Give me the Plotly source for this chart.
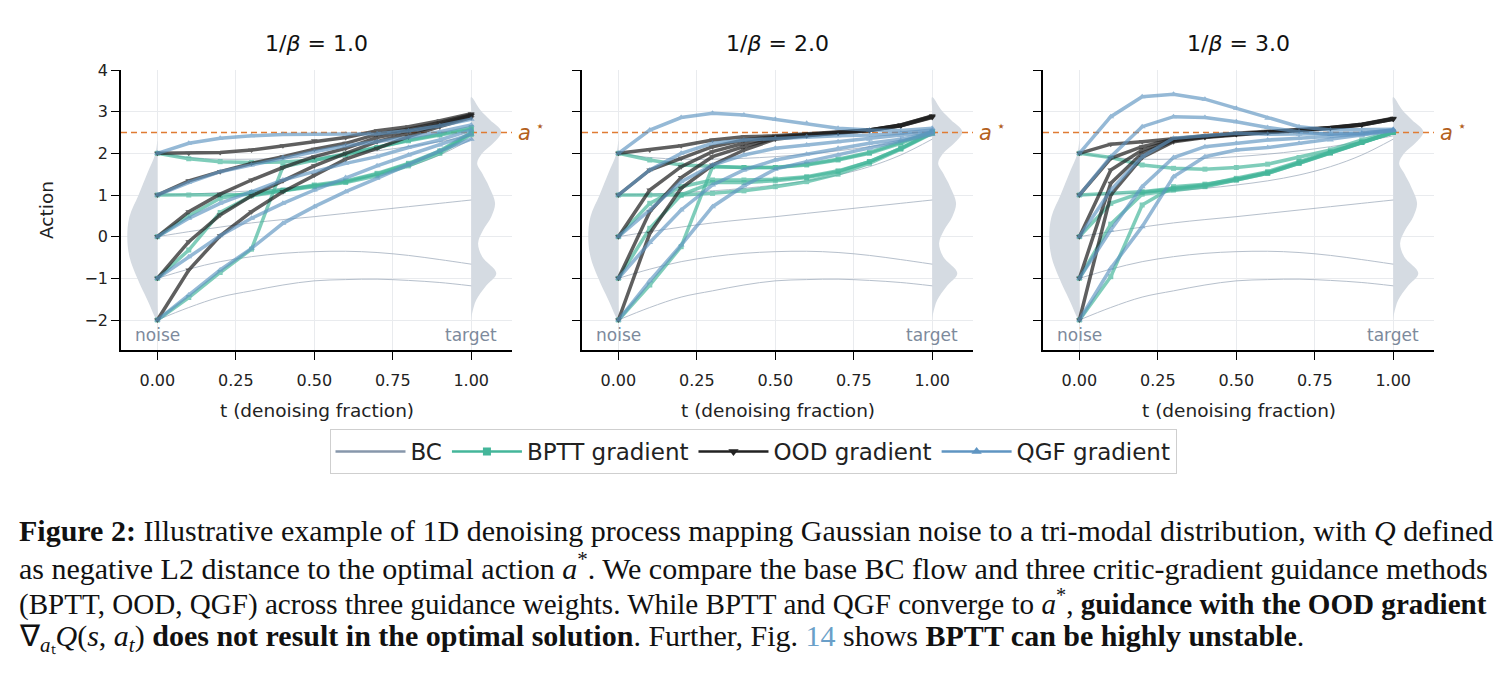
import plotly.graph_objects as go

# ---------------- data ----------------
T = [0.0, 0.1, 0.2, 0.3, 0.4, 0.5, 0.6, 0.7, 0.8, 0.9, 1.0]
TICK_T = [0.0, 0.25, 0.5, 0.75, 1.0]
TICK_T_TEXT = ["0.00", "0.25", "0.50", "0.75", "1.00"]
TICK_A = [-2, -1, 0, 1, 2, 3, 4]
TICK_A_TEXT = ["\u22122", "\u22121", "0", "1", "2", "3", "4"]
PANEL_TITLES = ["1.0", "2.0", "3.0"]
A_STAR = 2.5

# base BC flow (same in every panel), one row per start point 2,1,0,-1,-2
BC = [
    [2, 1.9, 1.86, 1.86, 1.88, 1.92, 1.98, 2.06, 2.16, 2.28, 2.42],
    [1, 1.02, 1.06, 1.1, 1.16, 1.24, 1.34, 1.48, 1.68, 1.96, 2.34],
    [0, 0.12, 0.23, 0.33, 0.41, 0.48, 0.56, 0.64, 0.72, 0.8, 0.88],
    [-1, -0.78, -0.6, -0.48, -0.4, -0.36, -0.35, -0.38, -0.45, -0.55, -0.66],
    [-2, -1.7, -1.45, -1.3, -1.16, -1.06, -1.03, -1.02, -1.05, -1.1, -1.18],
]

# 1/beta = 1.0
BPTT_B1 = [
    [2, 1.87, 1.8, 1.78, 1.79, 1.84, 1.96, 2.14, 2.32, 2.46, 2.62],
    [1, 1.0, 0.99, 1.01, 1.1, 1.2, 1.3, 1.46, 1.7, 2.0, 2.45],
    [0, 0.5, 0.92, 1.06, 1.12, 1.22, 1.32, 1.5, 1.74, 2.04, 2.48],
    [-1, -0.32, 0.58, 0.98, 1.1, 1.24, 1.34, 1.52, 1.76, 2.06, 2.5],
    [-2, -1.46, -0.86, -0.3, 1.68, 1.84, 1.98, 2.14, 2.3, 2.44, 2.58],
]
OOD_B1 = [
    [2, 2.0, 2.02, 2.08, 2.18, 2.30, 2.38, 2.54, 2.64, 2.78, 2.95],
    [1, 1.34, 1.56, 1.76, 1.92, 2.10, 2.24, 2.46, 2.58, 2.74, 2.93],
    [0, 0.6, 1.02, 1.36, 1.66, 1.92, 2.12, 2.38, 2.54, 2.70, 2.91],
    [-1, -0.12, 0.52, 0.98, 1.34, 1.70, 2.0, 2.28, 2.48, 2.67, 2.90],
    [-2, -0.8, 0.02, 0.6, 1.08, 1.48, 1.86, 2.12, 2.40, 2.64, 2.86],
]
QGF_B1 = [
    [2, 2.24, 2.36, 2.42, 2.45, 2.46, 2.46, 2.47, 2.54, 2.66, 2.82],
    [1, 1.3, 1.56, 1.72, 1.9, 2.04, 2.18, 2.28, 2.38, 2.52, 2.68],
    [0, 0.44, 0.8, 1.08, 1.36, 1.56, 1.76, 1.92, 2.14, 2.32, 2.56],
    [-1, -0.48, 0.02, 0.44, 0.8, 1.12, 1.42, 1.7, 1.96, 2.2, 2.46],
    [-2, -1.4, -0.8, -0.28, 0.32, 0.72, 1.08, 1.4, 1.72, 2.06, 2.34],
]

# 1/beta = 2.0
BPTT_B2 = [
    [2, 1.84, 1.72, 1.68, 1.66, 1.66, 1.72, 1.84, 2.0, 2.24, 2.52],
    [1, 1.0, 1.0, 1.04, 1.1, 1.2, 1.32, 1.5, 1.76, 2.1, 2.48],
    [0, 0.8, 1.2, 1.36, 1.36, 1.38, 1.44, 1.58, 1.8, 2.12, 2.5],
    [-1, 0.2, 1.0, 1.3, 1.3, 1.34, 1.42, 1.56, 1.8, 2.12, 2.49],
    [-2, -1.16, -0.24, 1.68, 1.66, 1.66, 1.74, 1.86, 2.02, 2.26, 2.52],
]
OOD_B2 = [
    [2, 2.08, 2.18, 2.32, 2.40, 2.42, 2.46, 2.50, 2.56, 2.68, 2.90],
    [1, 1.6, 1.88, 2.16, 2.32, 2.40, 2.45, 2.50, 2.56, 2.68, 2.89],
    [0, 1.12, 1.68, 2.04, 2.24, 2.38, 2.44, 2.50, 2.56, 2.67, 2.88],
    [-1, 0.6, 1.42, 1.92, 2.16, 2.36, 2.43, 2.49, 2.55, 2.66, 2.87],
    [-2, 0.08, 1.16, 1.72, 2.08, 2.34, 2.42, 2.49, 2.55, 2.66, 2.86],
]
QGF_B2 = [
    [2, 2.56, 2.86, 2.96, 2.92, 2.82, 2.72, 2.6, 2.56, 2.55, 2.6],
    [1, 1.6, 2.0, 2.24, 2.32, 2.36, 2.4, 2.42, 2.44, 2.48, 2.56],
    [0, 0.64, 1.32, 1.72, 1.96, 2.12, 2.2, 2.28, 2.34, 2.42, 2.52],
    [-1, -0.14, 0.64, 1.24, 1.6, 1.84, 1.98, 2.12, 2.24, 2.34, 2.5],
    [-2, -1.06, -0.2, 0.72, 1.22, 1.62, 1.8, 1.96, 2.12, 2.3, 2.46],
]

# 1/beta = 3.0
BPTT_B3 = [
    [2, 1.9, 1.72, 1.64, 1.62, 1.66, 1.74, 1.9, 2.08, 2.32, 2.52],
    [1, 1.04, 1.08, 1.16, 1.24, 1.4, 1.56, 1.8, 2.04, 2.28, 2.5],
    [0, 0.8, 1.06, 1.14, 1.22, 1.36, 1.52, 1.76, 2.02, 2.26, 2.5],
    [-1, 0.3, 1.02, 1.12, 1.2, 1.36, 1.52, 1.76, 2.0, 2.26, 2.5],
    [-2, -0.96, 0.76, 1.2, 1.26, 1.38, 1.54, 1.78, 2.02, 2.26, 2.5],
]
OOD_B3 = [
    [2, 2.22, 2.28, 2.36, 2.42, 2.48, 2.52, 2.56, 2.62, 2.70, 2.84],
    [1, 1.88, 2.16, 2.34, 2.41, 2.47, 2.51, 2.56, 2.61, 2.69, 2.83],
    [0, 1.6, 2.08, 2.32, 2.40, 2.46, 2.51, 2.55, 2.61, 2.69, 2.83],
    [-1, 1.28, 2.0, 2.3, 2.39, 2.46, 2.50, 2.55, 2.60, 2.68, 2.82],
    [-2, 1.0, 1.9, 2.28, 2.38, 2.45, 2.50, 2.55, 2.60, 2.68, 2.82],
]
QGF_B3 = [
    [2, 2.88, 3.36, 3.42, 3.3, 3.08, 2.84, 2.64, 2.56, 2.56, 2.58],
    [1, 1.92, 2.64, 2.88, 2.86, 2.76, 2.62, 2.52, 2.46, 2.48, 2.56],
    [0, 1.12, 1.92, 2.36, 2.42, 2.48, 2.46, 2.46, 2.46, 2.48, 2.56],
    [-1, 0.16, 1.2, 1.9, 2.16, 2.24, 2.32, 2.36, 2.4, 2.46, 2.55],
    [-2, -0.76, 0.24, 1.44, 1.92, 2.08, 2.14, 2.24, 2.32, 2.42, 2.54],
]

# density outlines (half-widths in t units)
NOISE_Y = [2.3, 2.0, 1.52, 1.0, 0.48, 0.0, -0.48, -1.0, -1.52, -2.0]
NOISE_W = [0.0, 0.006, 0.032, 0.060, 0.089, 0.096, 0.089, 0.064, 0.032, 0.002]
TARGET_Y = [3.35, 3.04, 2.80, 2.52, 2.24, 2.0, 1.76, 1.52, 1.2, 0.8, 0.48,
            0.16, -0.16, -0.48, -0.88, -1.2, -1.52, -1.84, -2.0]
TARGET_W = [0.0, 0.029, 0.06, 0.096, 0.07, 0.035, 0.019, 0.035, 0.057, 0.076,
            0.064, 0.038, 0.022, 0.035, 0.08, 0.045, 0.016, 0.003, 0.0]

PANELS = [(BPTT_B1, OOD_B1, QGF_B1), (BPTT_B2, OOD_B2, QGF_B2), (BPTT_B3, OOD_B3, QGF_B3)]

# ---------------- style ----------------
W, H = 1511, 680
FONT = "DejaVu Sans"
C_BC = "#8797ab"
C_BPTT = "#44b69a"
C_OOD = "#222222"
C_QGF = "#5f95c2"
C_DENS = "#d5dbe2"
C_STAR = "#e07b33"
C_STAR_TXT = "#b3601c"
C_NOTE = "#7d8a9c"
X_RANGE = [-0.116, 1.13]
Y_RANGE = [-2.72, 4.0]
PX_L = [121, 582, 1043]
PX_R = [512, 973, 1434]
PX_TOP, PX_BOT = 70, 350


def fx(p):
    return p / W


def fy(p):
    return 1 - p / H


fig = go.Figure()

for k, (bptt, ood, qgf) in enumerate(PANELS):
    xa = "x" if k == 0 else f"x{k+1}"
    ya = "y" if k == 0 else f"y{k+1}"
    common = dict(xaxis=xa, yaxis=ya, showlegend=False, hoverinfo="skip")

    # noise density (left of t=0)
    fig.add_trace(go.Scatter(
        x=[-w for w in NOISE_W] + [0.0] * len(NOISE_W),
        y=NOISE_Y + NOISE_Y[::-1],
        fill="toself", fillcolor=C_DENS, mode="lines",
        line=dict(width=0, color=C_DENS, shape="spline"), **common))
    # target density (right of t=1)
    fig.add_trace(go.Scatter(
        x=[1 + w for w in TARGET_W] + [1.0] * len(TARGET_W),
        y=TARGET_Y + TARGET_Y[::-1],
        fill="toself", fillcolor=C_DENS, mode="lines",
        line=dict(width=0, color=C_DENS, shape="spline"), **common))

    # a* reference line
    fig.add_trace(go.Scatter(
        x=X_RANGE, y=[A_STAR, A_STAR], mode="lines",
        line=dict(color=C_STAR, width=1.5, dash="6px,4px"), **common))

    for row in BC:
        fig.add_trace(go.Scatter(x=T, y=row, mode="lines",
                                 line=dict(color=C_BC, width=1, shape="spline"),
                                 opacity=0.6, **common))
    for row in bptt:
        fig.add_trace(go.Scatter(x=T, y=row, mode="lines+markers",
                                 line=dict(color=C_BPTT, width=3.5),
                                 marker=dict(symbol="square", size=5, color=C_BPTT),
                                 opacity=0.68, **common))
    for row in ood:
        fig.add_trace(go.Scatter(x=T, y=row, mode="lines+markers",
                                 line=dict(color=C_OOD, width=3.5),
                                 marker=dict(symbol="triangle-down", size=6, color=C_OOD),
                                 opacity=0.72, **common))
    for row in qgf:
        fig.add_trace(go.Scatter(x=T, y=row, mode="lines+markers",
                                 line=dict(color=C_QGF, width=3.5),
                                 marker=dict(symbol="triangle-up", size=6, color=C_QGF),
                                 opacity=0.66, **common))

# legend entries
fig.add_trace(go.Scatter(x=[None], y=[None], mode="lines", name="BC",
                         line=dict(color=C_BC, width=2.5)))
fig.add_trace(go.Scatter(x=[None], y=[None], mode="lines+markers", name="BPTT gradient",
                         line=dict(color=C_BPTT, width=2.5),
                         marker=dict(symbol="square", size=8, color=C_BPTT)))
fig.add_trace(go.Scatter(x=[None], y=[None], mode="lines+markers", name="OOD gradient",
                         line=dict(color=C_OOD, width=2.5),
                         marker=dict(symbol="triangle-down", size=9, color=C_OOD)))
fig.add_trace(go.Scatter(x=[None], y=[None], mode="lines+markers", name="QGF gradient",
                         line=dict(color=C_QGF, width=2.5),
                         marker=dict(symbol="triangle-up", size=9, color=C_QGF)))

axis_common = dict(showgrid=True, gridcolor="#e9ebee", gridwidth=1, zeroline=False,
                   showline=True, linecolor="black", linewidth=1.6,
                   ticks="outside", ticklen=8, tickwidth=1.4, tickcolor="black",
                   tickfont=dict(family=FONT, size=16, color="#222222"),
                   automargin=False, fixedrange=True)

layout = dict(
    width=W, height=H, margin=dict(l=0, r=0, t=0, b=0),
    paper_bgcolor="white", plot_bgcolor="white", template="none",
    font=dict(family=FONT, color="#222222"),
    legend=dict(orientation="h", x=fx(753), xanchor="center", y=fy(429), yanchor="top",
                bordercolor="#cfcfcf", borderwidth=1, bgcolor="white",
                font=dict(family=FONT, size=23, color="#222222"),
                itemwidth=70, tracegroupgap=0),
    showlegend=True,
)
for k in range(3):
    xk = "xaxis" if k == 0 else f"xaxis{k+1}"
    yk = "yaxis" if k == 0 else f"yaxis{k+1}"
    layout[xk] = dict(axis_common, domain=[fx(PX_L[k]), fx(PX_R[k])], range=X_RANGE,
                      tickvals=TICK_T, ticktext=TICK_T_TEXT, ticklabelstandoff=7,
                      anchor="y" if k == 0 else f"y{k+1}")
    layout[yk] = dict(axis_common, domain=[fy(PX_BOT), fy(PX_TOP)], range=Y_RANGE,
                      tickvals=TICK_A, ticktext=TICK_A_TEXT if k == 0 else [""] * len(TICK_A),
                      showticklabels=(k == 0),
                      anchor="x" if k == 0 else f"x{k+1}")
fig.update_layout(**layout)

ann = []
for k in range(3):
    xa = "x" if k == 0 else f"x{k+1}"
    ya = "y" if k == 0 else f"y{k+1}"
    cx = (PX_L[k] + PX_R[k]) / 2
    ann.append(dict(text="1/<i>\u03b2</i> = " + PANEL_TITLES[k], x=fx(cx), y=fy(44),
                    xref="paper", yref="paper", xanchor="center", yanchor="middle",
                    showarrow=False, font=dict(family=FONT, size=22, color="#111111")))
    ann.append(dict(text="t (denoising fraction)", x=fx(cx), y=fy(410),
                    xref="paper", yref="paper", xanchor="center", yanchor="middle",
                    showarrow=False, font=dict(family=FONT, size=18.5, color="#222222")))
    ann.append(dict(text="noise", x=0, y=-2.36, xref=xa, yref=ya, showarrow=False,
                    xanchor="center", yanchor="middle",
                    font=dict(family=FONT, size=17, color=C_NOTE)))
    ann.append(dict(text="target", x=1, y=-2.36, xref=xa, yref=ya, showarrow=False,
                    xanchor="center", yanchor="middle",
                    font=dict(family=FONT, size=17, color=C_NOTE)))
    ann.append(dict(text="<i>a</i><sup> \u22c6</sup>", x=fx(PX_R[k] + 4), y=fy(131),
                    xref="paper", yref="paper", xanchor="left", yanchor="middle",
                    showarrow=False, font=dict(family=FONT, size=21, color=C_STAR_TXT)))
ann.append(dict(text="Action", x=fx(46), y=fy(210), xref="paper", yref="paper",
                xanchor="center", yanchor="middle", textangle=-90, showarrow=False,
                font=dict(family=FONT, size=18.5, color="#222222")))

CAPTION = [
    "<b>Figure 2:</b> Illustrative example of 1D denoising process mapping Gaussian noise to a tri-modal distribution, with <i>Q</i> defined",
    "as negative L2 distance to the optimal action <i>a</i><sup>*</sup>. We compare the base BC flow and three critic-gradient guidance methods",
    "(BPTT, OOD, QGF) across three guidance weights. While BPTT and QGF converge to <i>a</i><sup>*</sup>, <b>guidance with the OOD gradient</b>",
    "\u2207<sub><i>a</i>\u209c</sub><i>Q</i>(<i>s</i>, <i>a</i><sub><i>t</i></sub>) <b>does not result in the optimal solution</b>. Further, Fig. "
    "<span style='color:#6a9fc8'>14</span> shows <b>BPTT can be highly unstable</b>.",
]
CAP_Y = [530, 566, 602, 638]
CAP_SIZE = [30, 30, 29.1, 30]
for line, yy, sz in zip(CAPTION, CAP_Y, CAP_SIZE):
    ann.append(dict(text=line, x=fx(17), y=fy(yy), xref="paper", yref="paper",
                    xanchor="left", yanchor="middle", showarrow=False,
                    font=dict(family="Liberation Serif", size=sz, color="#111111")))

fig.update_layout(annotations=ann)
fig.write_html("out.html")
